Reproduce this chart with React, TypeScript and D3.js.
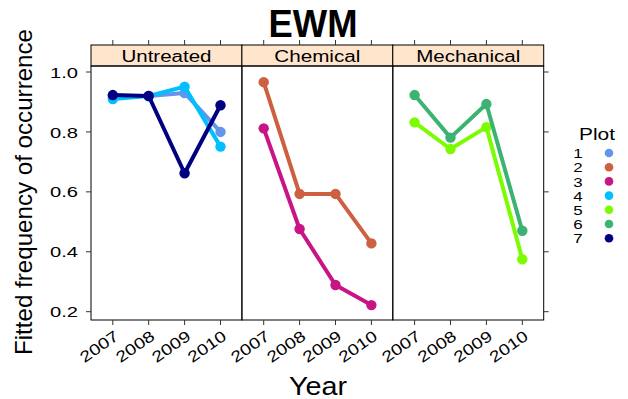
import React, { useEffect, useRef } from 'react';
import * as d3 from 'd3';

// data
const years = [2007, 2008, 2009, 2010];
const treatments = ["Untreated", "Chemical", "Mechanical"];
const plots = ["1", "2", "3", "4", "5", "6", "7"];
const plotColors = ["#6495ED", "#CD6040", "#C71585", "#00BFFF", "#7CFC00", "#3CB371", "#000080"];
const plotTreatment = ["Untreated", "Chemical", "Chemical", "Untreated", "Mechanical", "Mechanical", "Untreated"];
const plot1 = [0.92, 0.92, 0.93, 0.80];
const plot2 = [0.966, 0.593, 0.593, 0.428];
const plot3 = [0.812, 0.476, 0.289, 0.222];
const plot4 = [0.91, 0.92, 0.951, 0.751];
const plot5 = [0.832, 0.743, 0.816, 0.375];
const plot6 = [0.923, 0.781, 0.893, 0.47];
const plot7 = [0.923, 0.92, 0.662, 0.889];
const yTicks = [0.2, 0.4, 0.6, 0.8, 1.0];

const series = [plot1, plot2, plot3, plot4, plot5, plot6, plot7];

// the reference text is drawn a bit wider than the font; widen it
function stretch(sel: any, factor: number) {
  sel.each(function (this: SVGTextElement) {
    var w = this.getComputedTextLength();
    d3.select(this).attr("textLength", w * factor).attr("lengthAdjust", "spacingAndGlyphs");
  });
}

export default function App() {
  const ref = useRef<SVGSVGElement>(null);

  useEffect(() => {
    drawChart();
  }, []);

  function drawChart() {
    const svg = d3.select(ref.current);
    svg.selectAll("*").remove();
    const font = "'Liberation Sans', Arial, sans-serif";

    var margin = { top: 66, left: 91 },
      panelW = 150.9,
      panelH = 320 - 66,
      stripH = 21;

    var y = d3.scaleLinear().domain([0.2, 1.0]).range([311.7, 72]);
    var x = d3.scaleLinear().domain([2007, 2010]).range([21.8, 129.5]);

    // title
    svg.append("text")
      .attr("x", 313).attr("y", 37)
      .attr("text-anchor", "middle")
      .attr("textLength", 89).attr("lengthAdjust", "spacingAndGlyphs")
      .style("font-family", font).style("font-weight", "bold").style("font-size", "39px")
      .text("EWM");

    var stripWidths = [90, 86, 104];

    treatments.forEach(function (t, i) {
      var g = svg.append("g")
        .attr("transform", "translate(" + (margin.left + i * panelW) + ",0)");

      // strip
      g.append("rect")
        .attr("x", 0).attr("y", margin.top - stripH)
        .attr("width", panelW).attr("height", stripH)
        .attr("fill", "#FFE5CC").attr("stroke", "black").attr("stroke-width", 1);
      g.append("text")
        .attr("x", panelW / 2).attr("y", margin.top - 4)
        .attr("text-anchor", "middle")
        .attr("textLength", stripWidths[i]).attr("lengthAdjust", "spacingAndGlyphs")
        .style("font-family", font).style("font-size", "16px")
        .text(t);

      // panel
      g.append("rect")
        .attr("x", 0).attr("y", margin.top)
        .attr("width", panelW).attr("height", panelH)
        .attr("fill", "none").attr("stroke", "black").attr("stroke-width", 1);

      // top ticks
      g.selectAll(".ttick").data(years).enter().append("line")
        .attr("x1", d => x(d)).attr("x2", d => x(d))
        .attr("y1", margin.top - stripH).attr("y2", margin.top - stripH - 5)
        .attr("stroke", "#333");

      // bottom axis
      g.selectAll(".btick").data(years).enter().append("line")
        .attr("x1", d => x(d)).attr("x2", d => x(d))
        .attr("y1", margin.top + panelH).attr("y2", margin.top + panelH + 5)
        .attr("stroke", "#333");
      var labs = g.selectAll(".blab").data(years).enter().append("text")
        .attr("transform", d => "translate(" + (x(d) + 4) + "," + (margin.top + panelH + 14) + ")rotate(-35)")
        .attr("text-anchor", "end")
        .attr("dy", "0.35em")
        .style("font-family", font).style("font-size", "15.5px")
        .text(d => d);
      stretch(labs, 1.25);

      // lines
      var line = d3.line<number>()
        .x((d, j) => x(years[j]))
        .y(d => y(d));
      plots.forEach(function (p, k) {
        if (plotTreatment[k] !== t) return;
        g.append("path")
          .datum(series[k])
          .attr("d", line)
          .attr("fill", "none")
          .attr("stroke", plotColors[k])
          .attr("stroke-width", 4)
          .attr("stroke-linejoin", "round");
        g.selectAll(".pt" + k).data(series[k]).enter().append("circle")
          .attr("cx", (d, j) => x(years[j]))
          .attr("cy", d => y(d))
          .attr("r", 5.2)
          .attr("fill", plotColors[k]);
      });
    });

    var right = margin.left + 3 * panelW;

    // left axis
    svg.selectAll(".ltick").data(yTicks).enter().append("line")
      .attr("x1", margin.left - 5).attr("x2", margin.left)
      .attr("y1", d => y(d)).attr("y2", d => y(d))
      .attr("stroke", "#333");
    var ylabs = svg.selectAll(".llab").data(yTicks).enter().append("text")
      .attr("x", 78).attr("y", d => y(d))
      .attr("dy", "0.36em")
      .attr("text-anchor", "end")
      .style("font-family", font).style("font-size", "15.5px")
      .text(d => d3.format(".1f")(d));
    stretch(ylabs, 1.3);

    // right ticks
    svg.selectAll(".rtick").data(yTicks).enter().append("line")
      .attr("x1", right).attr("x2", right + 5)
      .attr("y1", d => y(d)).attr("y2", d => y(d))
      .attr("stroke", "#333");

    // axis titles
    svg.append("text")
      .attr("transform", "translate(32,192)rotate(-90)")
      .attr("text-anchor", "middle")
      .attr("textLength", 326).attr("lengthAdjust", "spacingAndGlyphs")
      .style("font-family", font).style("font-size", "24px")
      .text("Fitted frequency of occurrence");
    svg.append("text")
      .attr("x", 318).attr("y", 395)
      .attr("text-anchor", "middle")
      .attr("textLength", 58).attr("lengthAdjust", "spacingAndGlyphs")
      .style("font-family", font).style("font-size", "25px")
      .text("Year");

    // legend
    svg.append("text")
      .attr("x", 597).attr("y", 140)
      .attr("text-anchor", "middle")
      .attr("textLength", 36).attr("lengthAdjust", "spacingAndGlyphs")
      .style("font-family", font).style("font-size", "16.5px")
      .text("Plot");
    var leg = svg.append("g");
    plots.forEach(function (p, k) {
      var tx = leg.append("text")
        .attr("x", 578).attr("y", 153.5 + k * 14.2)
        .attr("dy", "0.36em")
        .attr("text-anchor", "middle")
        .style("font-family", font).style("font-size", "13px")
        .text(p);
      stretch(tx, 1.3);
      leg.append("circle")
        .attr("cx", 609).attr("cy", 153 + k * 14.2)
        .attr("r", 4.3)
        .attr("fill", plotColors[k]);
    });
  }

  return (
    <svg ref={ref} width={628} height={399}
      style={{ position: "absolute", left: 0, top: 0, background: "white" }} />
  );
}
